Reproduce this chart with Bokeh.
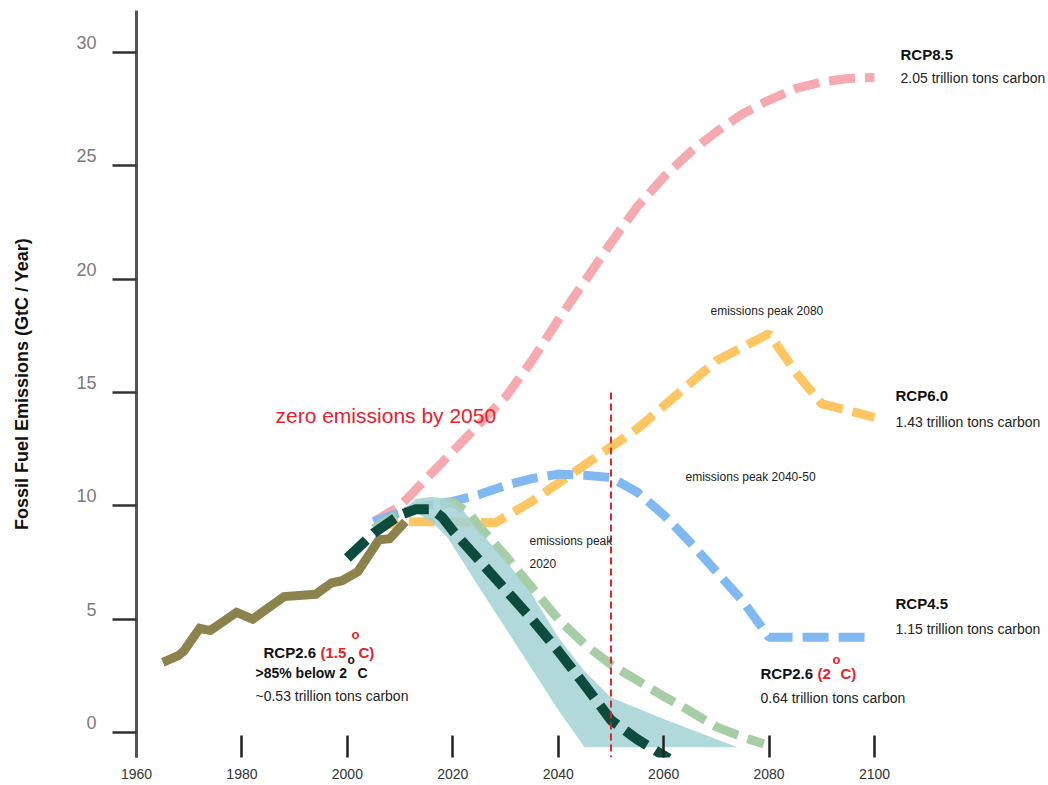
from bokeh.plotting import figure
from bokeh.models import Range1d, LinearAxis, FixedTicker
from bokeh.core.properties import value
from bokeh.embed import file_html
from bokeh.resources import INLINE

# ---------------- data ----------------
y_ticks = [0, 5, 10, 15, 20, 25, 30]
x_ticks = [1960, 1980, 2000, 2020, 2040, 2060, 2080, 2100]

hist_years = [1965, 1968, 1969, 1972, 1974, 1979, 1982, 1988, 1994, 1997, 1999, 2002, 2006, 2008, 2011]
hist_vals = [3.1, 3.4, 3.6, 4.6, 4.5, 5.3, 5.0, 6.0, 6.1, 6.6, 6.7, 7.1, 8.5, 8.55, 9.3]

rcp85_years = [2005, 2010, 2015, 2020, 2025, 2030, 2035, 2040, 2045, 2050, 2055, 2060,
               2065, 2070, 2075, 2080, 2085, 2090, 2095, 2100]
rcp85_vals = [9.3, 10.0, 11.2, 12.4, 13.6, 14.8, 16.4, 18.2, 19.9, 21.6, 23.2, 24.5,
              25.6, 26.5, 27.3, 27.9, 28.4, 28.7, 28.85, 28.9]

rcp60_years = [2005, 2010, 2020, 2028, 2035, 2040, 2045, 2050, 2055, 2060, 2065, 2070,
               2075, 2080, 2085, 2090, 2095, 2100]
rcp60_vals = [9.0, 9.3, 9.3, 9.25, 10.2, 11.0, 11.8, 12.6, 13.4, 14.4, 15.4, 16.4,
              17.0, 17.6, 15.9, 14.5, 14.2, 13.9]

rcp45_years = [2005, 2010, 2015, 2020, 2025, 2030, 2035, 2040, 2045, 2050, 2055, 2060,
               2065, 2070, 2075, 2080, 2090, 2100]
rcp45_vals = [9.3, 9.7, 10.0, 10.2, 10.5, 10.9, 11.2, 11.4, 11.35, 11.25, 10.6, 9.6,
              8.4, 7.1, 5.8, 4.2, 4.2, 4.2]

rcp26_years = [2005, 2010, 2015, 2020, 2023, 2025, 2030, 2035, 2040, 2045, 2050, 2055,
               2060, 2065, 2070, 2075, 2079]
rcp26_vals = [9.0, 9.7, 10.0, 10.15, 9.7, 9.1, 7.8, 6.4, 5.0, 3.9, 3.0, 2.3,
              1.6, 0.95, 0.25, -0.2, -0.5]

r15_years = [2000, 2005, 2010, 2013, 2016, 2018, 2020, 2025, 2030, 2035, 2040, 2045,
             2050, 2055, 2061]
r15_vals = [7.7, 8.8, 9.6, 9.85, 9.85, 9.5, 8.9, 7.6, 6.3, 5.0, 3.6, 2.1,
            0.55, -0.3, -1.15]

band_years = [2011, 2013, 2016, 2019, 2022, 2025, 2030, 2035, 2040, 2045, 2050, 2060, 2074]
band_upper = [9.9, 10.3, 10.4, 10.3, 9.8, 8.9, 7.6, 6.1, 4.2, 2.7, 1.55, 0.6, -0.65]
band_lower = [9.9, 9.7, 9.3, 8.6, 7.5, 6.4, 4.6, 2.8, 1.0, -0.65, -0.65, -0.65, -0.65]

zero_year = 2050
zero_line_vals = [15, -1.1]

# ---------------- geometry helpers ----------------
def X(px):
    return 1960 + (px - 136) / 5.2714

def Y(py):
    return (732 - py) / 22.667

FONT = value("Liberation Sans")
Y0, Y1 = -1.10, 31.85
SHIFT = 0.44  # tick labels sit ~10px above their ticks

p = figure(width=1048, height=785, output_backend="svg", toolbar_location=None,
           x_range=Range1d(1960, 2133.0), y_range=Range1d(Y0, Y1),
           min_border_left=136, min_border_right=0, min_border_top=10, min_border_bottom=28,
           x_axis_location=None, y_axis_location=None)
p.outline_line_color = None
p.background_fill_color = "white"
p.border_fill_color = "white"
p.grid.grid_line_color = None

# y-axis: labels are major ticks on a shifted range, tick marks are minor ticks at true values
p.extra_y_ranges = {"lab": Range1d(Y0 - SHIFT, Y1 - SHIFT)}
yax = LinearAxis(y_range_name="lab",
                 ticker=FixedTicker(ticks=y_ticks, minor_ticks=[v - SHIFT for v in y_ticks]),
                 axis_line_width=3, axis_line_color="#555555",
                 major_tick_line_color=None, major_tick_out=0, major_tick_in=0,
                 minor_tick_out=24, minor_tick_in=0, minor_tick_line_width=2.5,
                 minor_tick_line_color="#333333",
                 major_label_standoff=16,
                 major_label_text_font_size="18px", major_label_text_color="#7a7a7a",
                 major_label_text_font="Liberation Sans",
                 axis_label="Fossil Fuel Emissions (GtC / Year)",
                 axis_label_text_font_style="bold", axis_label_text_font_size="18px",
                 axis_label_text_font="Liberation Sans", axis_label_text_color="#111111",
                 axis_label_standoff=41)
p.add_layout(yax, "left")

xax = LinearAxis(ticker=FixedTicker(ticks=x_ticks), axis_line_color=None,
                 major_tick_in=22, major_tick_out=0, major_tick_line_width=2.5,
                 major_tick_line_color="#222222", minor_tick_line_color=None,
                 major_label_standoff=11, major_label_text_font_size="14px",
                 major_label_text_color="#333333", major_label_text_font="Liberation Sans")
p.add_layout(xax, "below")

DASH = "26 10"
p.line(rcp85_years, rcp85_vals, line_color="#f7a9b0", line_width=9, line_dash=DASH)
p.line(rcp60_years, rcp60_vals, line_color="#fdc662", line_width=9, line_dash=DASH)
p.line(rcp45_years, rcp45_vals, line_color="#80b8f2", line_width=9, line_dash=DASH)
p.line(rcp26_years, rcp26_vals, line_color="#a6cda6", line_width=9, line_dash=DASH)
p.varea(x=band_years, y1=band_lower, y2=band_upper, fill_color="#a3d1d5", fill_alpha=0.85)
p.line(hist_years, hist_vals, line_color="#8c824b", line_width=9, line_join="miter")
p.line(r15_years, r15_vals, line_color="#0e4b3f", line_width=10, line_dash=DASH)
p.line([zero_year, zero_year], zero_line_vals, line_color="#e0202a", line_width=2,
       line_dash="7 4")

def txt(px, py, s, size="14px", bold=False, color="#222222", align="left"):
    p.text(x=[X(px)], y=[Y(py)], text=[s], text_font=FONT, text_font_size=size,
           text_font_style="bold" if bold else "normal", text_color=color,
           text_align=align, text_baseline="middle")

RED = "#e8202a"
txt(900, 54, "RCP8.5", "15px", True, "#111111")
txt(900, 78, "2.05 trillion tons carbon", "14px")
txt(895, 395, "RCP6.0", "15px", True, "#111111")
txt(895, 421, "1.43 trillion tons carbon", "14px")
txt(895, 603, "RCP4.5", "15px", True, "#111111")
txt(895, 628, "1.15 trillion tons carbon", "14px")
txt(710, 311, "emissions peak 2080", "12px")
txt(685, 476, "emissions peak 2040-50", "12px")
txt(529, 540, "emissions peak", "12px")
txt(529, 563, "2020", "12px")
txt(275, 415, "zero emissions by 2050", "21px", False, RED)

# RCP2.6 (2 C)
txt(760, 673, "RCP2.6", "15px", True, "#111111")
txt(817, 673, "(2", "15px", True, RED)
txt(832, 659, "o", "13px", True, RED)
txt(840, 673, "C)", "15px", True, RED)
txt(760, 697, "0.64 trillion tons carbon", "14px")

# RCP2.6 (1.5 C)
txt(263, 652, "RCP2.6", "15px", True, "#111111")
txt(320, 652, "(1.5", "15px", True, RED)
txt(351, 634, "o", "13px", True, RED)
txt(358, 652, "C)", "15px", True, RED)
txt(255, 672, ">85% below 2", "14px", True, "#111111")
txt(347, 659, "o", "12px", True, "#111111")
txt(357, 672, "C", "14px", True, "#111111")
txt(255, 695, "~0.53 trillion tons carbon", "14px")

open("out.html", "w").write(file_html(p, INLINE))
